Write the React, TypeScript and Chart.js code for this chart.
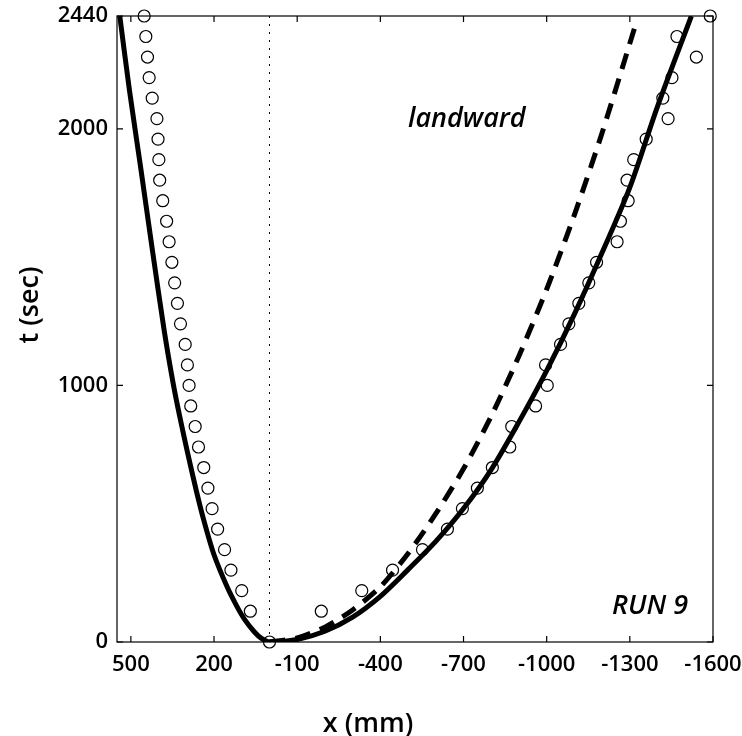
import { useEffect, useRef } from "react";
import { Chart, registerables } from "chart.js";

Chart.register(...registerables);

// ---- data ----
const xTicks = [500, 200, -100, -400, -700, -1000, -1300, -1600];
const yTicks = [0, 1000, 2000, 2440];

// solid model curve (x mm, t sec)
const solidX = [540, 505, 466, 424, 380, 346, 320, 295, 264, 237, 200, 152, 118, 88, 55, 30, 0, -100, -200, -300, -400, -500, -600, -700, -800, -900, -1000, -1100, -1200, -1300, -1400, -1522];
const solidT = [2440, 2150, 1860, 1540, 1216, 1000, 860, 736, 590, 475, 340, 213, 140, 85, 40, 15, 0, 10, 42, 97, 178, 282, 392, 520, 672, 858, 1058, 1278, 1518, 1772, 2088, 2440];

// dashed model curve
const dashX = [0, -100, -200, -300, -400, -500, -600, -700, -800, -900, -1000, -1100, -1200, -1326];
const dashT = [0, 16, 58, 125, 215, 345, 500, 675, 880, 1115, 1375, 1665, 1985, 2425];

// measured times (sec)
const circleT = [0, 120, 200, 280, 360, 440, 520, 600, 680, 760, 840, 920, 1000, 1080, 1160, 1240, 1320, 1400, 1480, 1560, 1640, 1720, 1800, 1880, 1960, 2040, 2120, 2200, 2280, 2360, 2440];
// seaward branch positions
const leftCircleX = [0, 69, 100, 139, 162, 187, 207, 222, 237, 256, 268, 284, 290, 296, 304, 321, 332, 342, 352, 362, 371, 385, 396, 399, 402, 406, 423, 434, 440, 446, 452];
// landward branch positions
const rightCircleX = [0, -187, -333, -444, -552, -642, -696, -750, -804, -867, -874, -960, -1002, -996, -1050, -1080, -1116, -1152, -1180, -1254, -1266, -1294, -1290, -1314, -1359, -1438, -1419, -1452, -1540, -1470, -1590];

const refLineX = [0, 0];
const refLineT = [0, 2440];

const FONT = "'Open Sans', 'DejaVu Sans', sans-serif";

const framePlugin = {
  id: "frame",
  beforeDatasetsDraw(chart: any) {
    const { ctx, chartArea: a, scales } = chart;
    ctx.save();
    ctx.strokeStyle = "#000";
    ctx.lineWidth = 1.2;
    ctx.strokeRect(a.left, a.top, a.right - a.left, a.bottom - a.top);
    const L = 6;
    ctx.beginPath();
    for (const v of xTicks) {
      const px = scales.x.getPixelForValue(v);
      ctx.moveTo(px, a.bottom);
      ctx.lineTo(px, a.bottom - L);
      ctx.moveTo(px, a.top);
      ctx.lineTo(px, a.top + L);
    }
    for (const v of yTicks) {
      const py = scales.y.getPixelForValue(v);
      ctx.moveTo(a.left, py);
      ctx.lineTo(a.left + L, py);
      ctx.moveTo(a.right, py);
      ctx.lineTo(a.right - L, py);
    }
    ctx.stroke();
    ctx.restore();
  },
  afterDraw(chart: any) {
    const { ctx, chartArea: a } = chart;
    ctx.save();
    ctx.fillStyle = "#000";
    ctx.textAlign = "center";
    ctx.textBaseline = "middle";
    ctx.font = `600 27px ${FONT}`;
    ctx.fillText("x (mm)", 368, 724);
    ctx.save();
    ctx.translate(30, 305);
    ctx.rotate(-Math.PI / 2);
    ctx.fillText("t (sec)", 0, 0);
    ctx.restore();
    ctx.font = `italic 600 27px ${FONT}`;
    ctx.textAlign = "left";
    ctx.textBaseline = "alphabetic";
    ctx.fillText("landward", 408, 127);
    ctx.fillText("RUN 9", 612, 614);
    ctx.restore();
  },
};

export default function App() {
  const ref = useRef<HTMLCanvasElement | null>(null);
  useEffect(() => {
    if (!ref.current) return;
    const chart = new Chart(ref.current, {
      type: "scatter",
      data: {
        datasets: [
          {
            label: "solid",
            data: solidX.map((x, i) => ({ x, y: solidT[i] })),
            showLine: true,
            borderColor: "#000",
            borderWidth: 5,
            pointRadius: 0,
            tension: 0.3,
            fill: false,
          },
          {
            label: "dashed",
            data: dashX.map((x, i) => ({ x, y: dashT[i] })),
            showLine: true,
            borderColor: "#000",
            borderWidth: 5,
            borderDash: [16, 10],
            pointRadius: 0,
            tension: 0.25,
            fill: false,
          },
          {
            label: "zero",
            data: refLineX.map((x, i) => ({ x, y: refLineT[i] })),
            showLine: true,
            borderColor: "#000",
            borderWidth: 1,
            borderDash: [2, 6],
            pointRadius: 0,
            fill: false,
          },
          {
            label: "left obs",
            data: leftCircleX.map((x, i) => ({ x, y: circleT[i] })),
            showLine: false,
            pointStyle: "circle",
            pointRadius: 6,
            pointBorderWidth: 1.2,
            pointBackgroundColor: "rgba(0,0,0,0)",
            pointBorderColor: "#000",
            clip: false,
          },
          {
            label: "right obs",
            data: rightCircleX.slice(1).map((x, i) => ({ x, y: circleT[i + 1] })),
            showLine: false,
            pointStyle: "circle",
            pointRadius: 6,
            pointBorderWidth: 1.2,
            pointBackgroundColor: "rgba(0,0,0,0)",
            pointBorderColor: "#000",
            clip: false,
          },
        ],
      },
      options: {
        responsive: false,
        animation: false,
        events: [],
        layout: { padding: { top: 16, right: 29, left: 0, bottom: 0 } },
        plugins: { legend: { display: false }, tooltip: { enabled: false } },
        scales: {
          x: {
            type: "linear",
            reverse: true,
            min: -1600,
            max: 550,
            grid: { display: false, drawTicks: false },
            border: { display: false },
            afterBuildTicks: (s: any) => {
              s.ticks = xTicks.map((v) => ({ value: v }));
            },
            afterFit: (s: any) => {
              s.height = 94;
              s.paddingLeft = 0;
              s.paddingRight = 0;
            },
            ticks: {
              color: "#000",
              padding: 10,
              maxRotation: 0,
              autoSkip: false,
              font: { family: FONT, size: 22, weight: "600" },
              callback: (v: any) => String(v),
            },
          },
          y: {
            type: "linear",
            min: 0,
            max: 2440,
            grid: { display: false, drawTicks: false },
            border: { display: false },
            afterBuildTicks: (s: any) => {
              s.ticks = yTicks.map((v) => ({ value: v }));
            },
            afterFit: (s: any) => {
              s.width = 117;
              s.paddingTop = 0;
              s.paddingBottom = 0;
            },
            ticks: {
              color: "#000",
              padding: 9,
              autoSkip: false,
              font: { family: FONT, size: 22, weight: "600" },
              callback: (v: any) => String(v),
            },
          },
        },
      },
      plugins: [framePlugin],
    } as any);
    return () => chart.destroy();
  }, []);
  return (
    <div style={{ position: "absolute", left: 0, top: 0, width: 742, height: 736, background: "#fff" }}>
      <canvas ref={ref} width={742} height={736} />
    </div>
  );
}
